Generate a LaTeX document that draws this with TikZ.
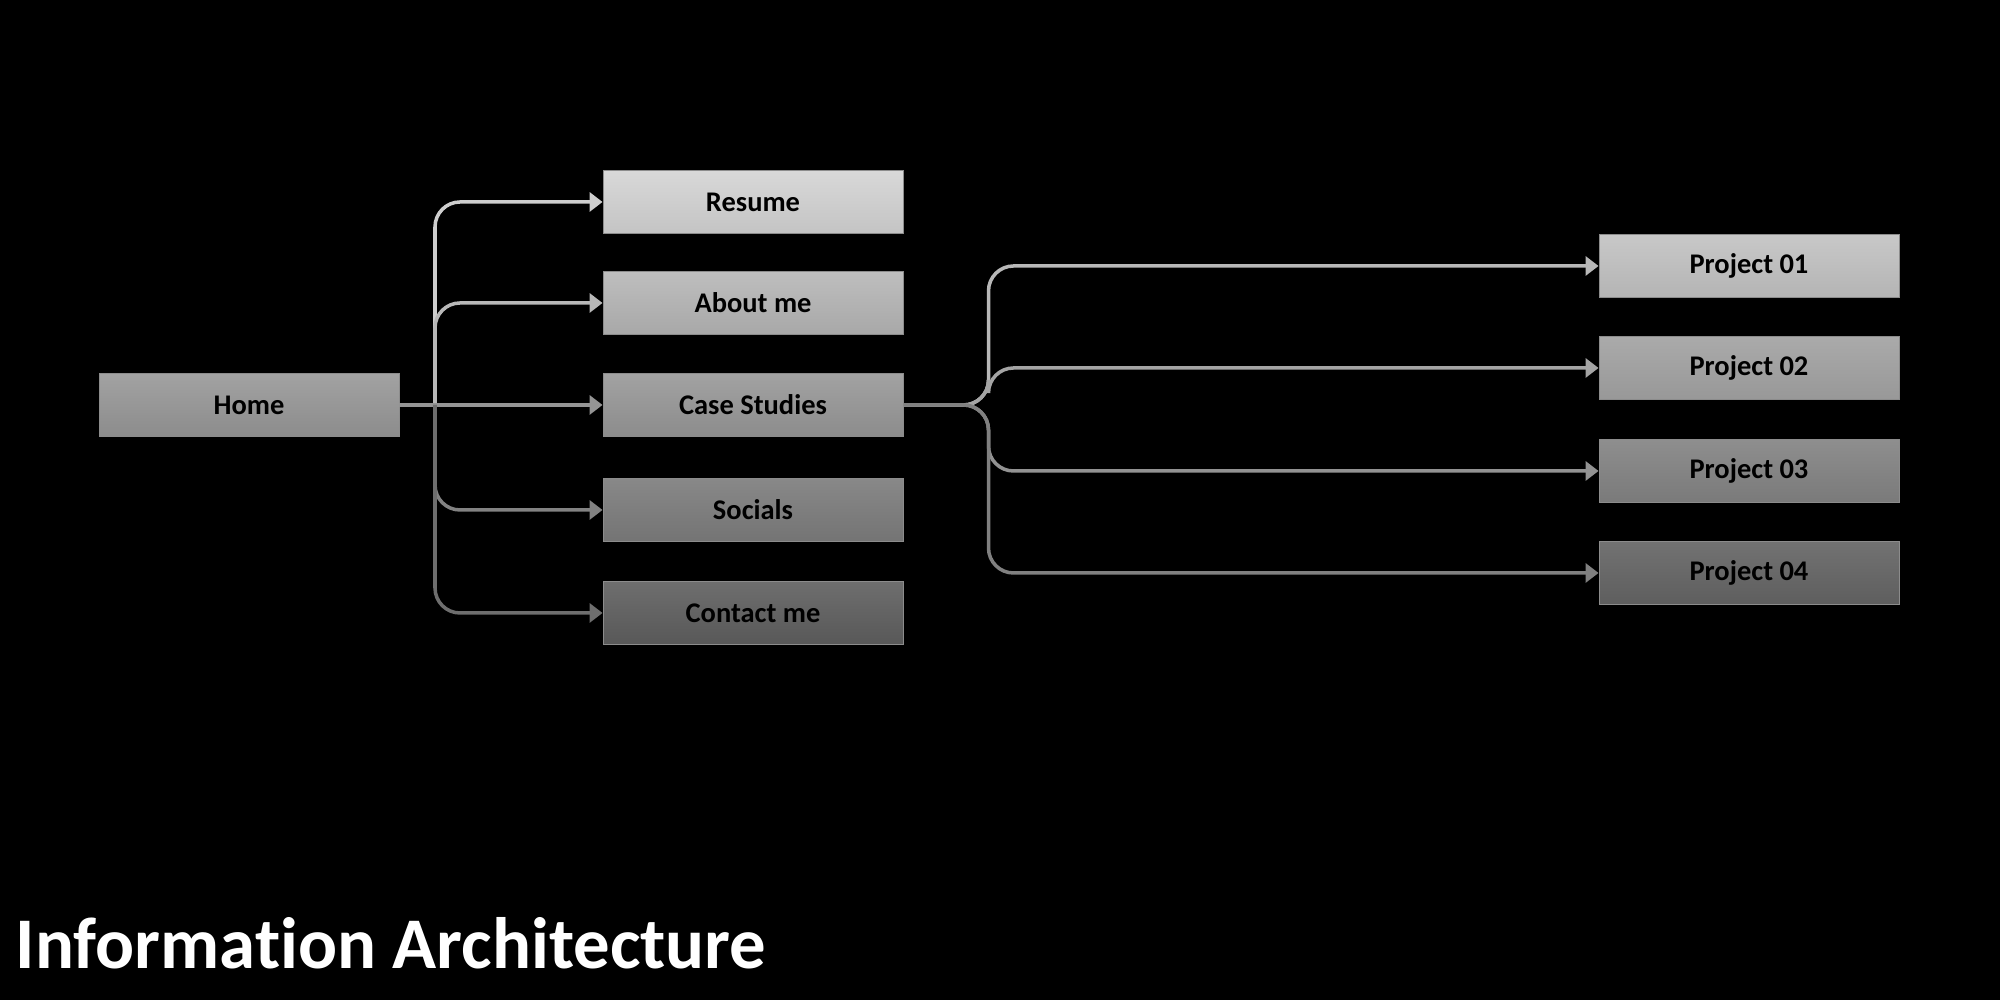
\documentclass[tikz,border=0pt]{standalone}
\usepackage{fontspec}
\setmainfont{Carlito}[Ligatures={NoCommon}]
\usetikzlibrary{arrows.meta}
\tikzset{
  pagebox/.style={rectangle, minimum width=3cm, minimum height=0.625cm, inner sep=0pt,
    font=\bfseries\fontsize{8.1pt}{9pt}\selectfont, text=black, draw=black!45, line width=0.25pt},
  conn/.style={line width=1pt, rounded corners=0.25cm, -{Triangle[length=1.3mm,width=1.9mm]}},
}
\begin{document}
\begin{tikzpicture}
\fill[black] (0,0) rectangle (20,10);
\useasboundingbox (0,0) rectangle (20,10);
% left column
\node[pagebox, top color={rgb,255:red,162;green,162;blue,162}, bottom color={rgb,255:red,140;green,140;blue,140}] (home) at (2.49,5.95) {Home};
\node[pagebox, top color={rgb,255:red,216;green,216;blue,216}, bottom color={rgb,255:red,196;green,196;blue,196}] (resume) at (7.53,7.98) {Resume};
\node[pagebox, top color={rgb,255:red,190;green,190;blue,190}, bottom color={rgb,255:red,168;green,168;blue,168}] (about) at (7.53,6.97) {About me};
\node[pagebox, top color={rgb,255:red,162;green,162;blue,162}, bottom color={rgb,255:red,140;green,140;blue,140}] (case) at (7.53,5.95) {Case Studies};
\node[pagebox, top color={rgb,255:red,136;green,136;blue,136}, bottom color={rgb,255:red,116;green,116;blue,116}] (socials) at (7.53,4.90) {Socials};
\node[pagebox, top color={rgb,255:red,110;green,110;blue,110}, bottom color={rgb,255:red,88;green,88;blue,88}] (contact) at (7.53,3.87) {Contact me};
% projects
\node[pagebox, top color={rgb,255:red,200;green,200;blue,200}, bottom color={rgb,255:red,180;green,180;blue,180}] (p1) at (17.49,7.34) {Project 01};
\node[pagebox, top color={rgb,255:red,170;green,170;blue,170}, bottom color={rgb,255:red,152;green,152;blue,152}] (p2) at (17.49,6.32) {Project 02};
\node[pagebox, top color={rgb,255:red,142;green,142;blue,142}, bottom color={rgb,255:red,122;green,122;blue,122}] (p3) at (17.49,5.29) {Project 03};
\node[pagebox, top color={rgb,255:red,114;green,114;blue,114}, bottom color={rgb,255:red,94;green,94;blue,94}] (p4) at (17.49,4.27) {Project 04};
% junctions
\coordinate (hj) at (4.35,5.95);
\coordinate (cj) at (9.885,5.95);
% connectors left
\draw[conn, draw={rgb,255:red,206;green,206;blue,206}] (hj) |- (resume.west);
\draw[conn, draw={rgb,255:red,184;green,184;blue,184}] (hj) |- (about.west);
\draw[conn, draw={rgb,255:red,148;green,148;blue,148}] (home.east) -- (case.west);
\draw[conn, draw={rgb,255:red,130;green,130;blue,130}] (hj) |- (socials.west);
\draw[conn, draw={rgb,255:red,110;green,110;blue,110}] (hj) |- (contact.west);
% connectors right
\draw[conn, draw={rgb,255:red,184;green,184;blue,184}] (case.east) -- (cj) |- (p1.west);
\draw[conn, draw={rgb,255:red,164;green,164;blue,164}] (case.east) -- (cj) |- (p2.west);
\draw[conn, draw={rgb,255:red,146;green,146;blue,146}] (case.east) -- (cj) |- (p3.west);
\draw[conn, draw={rgb,255:red,128;green,128;blue,128}] (case.east) -- (cj) |- (p4.west);
% title
\node[anchor=base west, inner sep=0pt, text=white, font=\bfseries\fontsize{20.7pt}{24pt}\selectfont] (title) at (0.15,0.31) {Information Architecture};
\end{tikzpicture}
\end{document}
